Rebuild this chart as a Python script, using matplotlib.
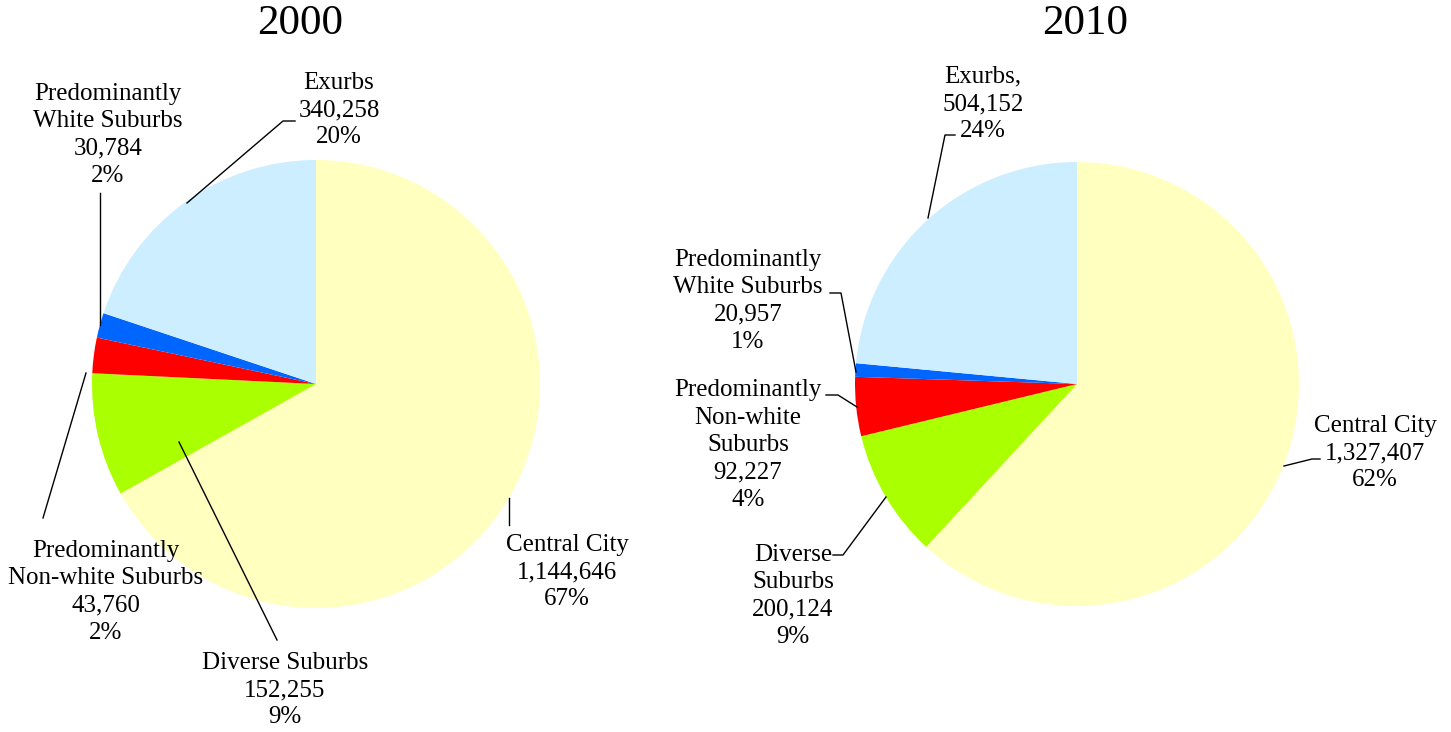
import matplotlib.pyplot as plt

# data
categories = ["Central City", "Diverse Suburbs", "Predominantly Non-white Suburbs",
              "Predominantly White Suburbs", "Exurbs"]
values_2000 = [1144646, 152255, 43760, 30784, 340258]
values_2010 = [1327407, 200124, 92227, 20957, 504152]
pct_2000 = ["67%", "9%", "2%", "2%", "20%"]
pct_2010 = ["62%", "9%", "4%", "1%", "24%"]
colors = ["#FFFFC0", "#AAFF00", "#FF0000", "#0066FF", "#CCEEFF"]

W, H = 1451, 732
plt.rcParams["font.family"] = ["Liberation Serif", "DejaVu Serif"]

fig = plt.figure(figsize=(W / 100, H / 100), dpi=100)
ax = fig.add_axes([0, 0, 1, 1])


def py(y):
    # pixel y (top-down) -> data y
    return H - y


def fmt(v):
    return f"{v:,}"


ax.pie(values_2000, colors=colors, startangle=90, counterclock=False,
       center=(316, py(384)), radius=224, wedgeprops=dict(linewidth=0))
ax.pie(values_2010, colors=colors, startangle=90, counterclock=False,
       center=(1077, py(384)), radius=222, wedgeprops=dict(linewidth=0))

ax.set_xlim(0, W)
ax.set_ylim(0, H)
ax.set_aspect("auto")
ax.axis("off")

# titles
ax.text(300, py(24), "2000", fontsize=31, ha="center", va="center")
ax.text(1085, py(24), "2010", fontsize=31, ha="center", va="center")

# label text blocks (label, position in pixels)
labels_2000 = [
    ("Central City\n" + fmt(values_2000[0]) + "\n" + pct_2000[0], (567, 572)),
    ("Diverse Suburbs\n" + fmt(values_2000[1]) + "\n" + pct_2000[1], (285, 690)),
    ("Predominantly\nNon-white Suburbs\n" + fmt(values_2000[2]) + "\n" + pct_2000[2], (106, 592)),
    ("Predominantly\nWhite Suburbs\n" + fmt(values_2000[3]) + "\n" + pct_2000[3], (108, 135)),
    ("Exurbs\n" + fmt(values_2000[4]) + "\n" + pct_2000[4], (339, 110)),
]
labels_2010 = [
    ("Central City\n" + fmt(values_2010[0]) + "\n" + pct_2010[0], (1375, 453)),
    ("Diverse\nSuburbs\n" + fmt(values_2010[1]) + "\n" + pct_2010[1], (793, 596)),
    ("Predominantly\nNon-white\nSuburbs\n" + fmt(values_2010[2]) + "\n" + pct_2010[2], (748, 445)),
    ("Predominantly\nWhite Suburbs\n" + fmt(values_2010[3]) + "\n" + pct_2010[3], (748, 301)),
    ("Exurbs,\n" + fmt(values_2010[4]) + "\n" + pct_2010[4], (983, 104)),
]
for txt, (x, y) in labels_2000 + labels_2010:
    ax.text(x, py(y), txt, fontsize=18, ha="center", va="center", linespacing=1.32)

# leader lines
leaders = [
    [(100, 193), (100, 325)],
    [(187, 203), (283, 121), (295, 121)],
    [(86, 373), (43, 518)],
    [(179, 442), (277, 640)],
    [(509, 498), (509, 525)],
    [(928, 218), (945, 135), (955, 135)],
    [(830, 293), (841, 293), (856, 372)],
    [(826, 395), (838, 395), (857, 407)],
    [(833, 555), (843, 555), (886, 497)],
    [(1284, 466), (1312, 459), (1320, 459)],
]
for pts in leaders:
    ax.plot([p[0] for p in pts], [py(p[1]) for p in pts], color="black", linewidth=1.0)

fig.savefig("out.png", dpi=100)
